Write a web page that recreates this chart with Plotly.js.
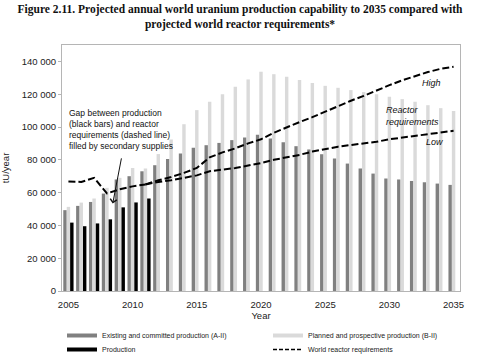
<!DOCTYPE html>
<html>
<head>
<meta charset="utf-8">
<script src="https://cdn.plot.ly/plotly-3.0.1.min.js"></script>
<style>html,body{margin:0;padding:0;background:#fff;}#chart{width:480px;height:362px;}</style>
</head>
<body>
<div id="chart"></div>
<script>
var years = [2005,2006,2007,2008,2009,2010,2011,2012,2013,2014,2015,2016,2017,2018,2019,2020,2021,2022,2023,2024,2025,2026,2027,2028,2029,2030,2031,2032,2033,2034,2035];
var existingAII = [49300,51900,54300,59400,68000,70000,73000,76700,80500,83900,87300,88900,90300,92000,93600,95200,93000,90700,88300,86300,83400,80800,77700,74700,71600,68600,68000,67100,66300,65500,64700];
var plannedBII = [51300,53900,56400,62900,69000,75000,74700,83500,92400,101700,110300,115400,120000,124500,129000,133700,132200,130600,128600,126900,125100,123900,122500,121300,119900,118400,117000,115400,113300,111500,109700];
var prodYears = [2005,2006,2007,2008,2009,2010,2011];
var production = [41700,39500,41200,43700,51000,54000,56400];
var reqHistYears = [2005,2006,2007,2008,2009,2010,2011];
var reqHist = [66800,66500,69000,59500,62000,63800,65000];
var projYears = [2011,2012,2013,2014,2015,2016,2017,2018,2019,2020,2021,2022,2023,2024,2025,2026,2027,2028,2029,2030,2031,2032,2033,2034,2035];
var reqHigh = [65000,67500,69500,72000,75000,81500,84500,87000,90000,92500,96500,100000,103000,106000,109500,112500,116000,119000,122500,125500,128500,131000,133500,135500,136700];
var reqLow = [65000,66500,67500,69000,70500,73000,74000,75000,76500,78000,80000,81500,83000,85000,86500,88000,89000,90000,91000,92500,93500,94500,95500,96500,97700];
var legendNames = ['Existing and committed production (A-II)','Planned and prospective production (B-II)','Production','World reactor requirements'];
var yTickVals = [0,20000,40000,60000,80000,100000,120000,140000];
var yTickText = ['0','20 000','40 000','60 000','80 000','100 000','120 000','140 000'];

var SANS = '"Liberation Sans Narrow", "Arial Narrow", "Liberation Sans", Arial, sans-serif';
var cDark = '#808080', cLight = '#dadada';
var reqLine = {color:'#000', width:2, dash:'7px,3px'};

var traces = [
  {type:'bar', x:years, y:existingAII, marker:{color:cDark}, showlegend:false, hoverinfo:'skip'},
  {type:'bar', x:years, y:plannedBII, marker:{color:cLight}, showlegend:false, hoverinfo:'skip'},
  {type:'bar', x:prodYears, y:production, marker:{color:'#000'}, showlegend:false, hoverinfo:'skip'},
  {type:'scatter', mode:'lines', x:reqHistYears, y:reqHist, line:reqLine, showlegend:false},
  {type:'scatter', mode:'lines', x:projYears, y:reqHigh, line:reqLine, showlegend:false},
  {type:'scatter', mode:'lines', x:projYears, y:reqLow, line:reqLine, showlegend:false},
  {type:'scatter', mode:'lines', x:[null], y:[null], name:legendNames[0], legend:'legend', line:{color:cDark, width:4}},
  {type:'scatter', mode:'lines', x:[null], y:[null], name:legendNames[1], legend:'legend2', line:{color:cLight, width:4}},
  {type:'scatter', mode:'lines', x:[null], y:[null], name:legendNames[2], legend:'legend3', line:{color:'#000', width:4}},
  {type:'scatter', mode:'lines', x:[null], y:[null], name:legendNames[3], legend:'legend4', line:{color:'#000', width:1.5, dash:'4px,2px'}}
];

function legendAt(leftPx, topPx){
  return {orientation:'h', xref:'container', x:leftPx/480, xanchor:'left', yref:'container', y:1 - topPx/362, yanchor:'top',
          font:{family:SANS, size:7, color:'#222'}, bgcolor:'rgba(0,0,0,0)'};
}

var layout = {
  width:480, height:362,
  margin:{l:62, r:20, t:45, b:71},
  paper_bgcolor:'#fff', plot_bgcolor:'#fff',
  barmode:'group', bargap:0.2, bargroupgap:0,
  title:{text:'Figure 2.11. Projected annual world uranium production capability to 2035 compared with<br>projected world reactor requirements*',
         font:{family:'"Liberation Serif", "DejaVu Serif", serif', size:11.5, color:'#111', weight:'bold'},
         x:0.5, xanchor:'center', y:0.965, yanchor:'top', yref:'container'},
  xaxis:{range:[2004.5,2035.5], tickvals:[2005,2010,2015,2020,2025,2030,2035], ticks:'outside', ticklen:5, tickcolor:'rgba(0,0,0,0)',
         showgrid:false, zeroline:false, showline:true, mirror:true, linecolor:'#b5b5b5', linewidth:1,
         tickfont:{family:SANS, size:9.5, color:'#222'},
         title:{text:'Year', font:{family:SANS, size:9.5, color:'#222'}, standoff:6}},
  yaxis:{range:[0,150000], tickvals:yTickVals, ticktext:yTickText, ticks:'outside', ticklen:3, tickcolor:'#b5b5b5',
         showgrid:false, zeroline:false, showline:true, mirror:true, linecolor:'#b5b5b5', linewidth:1,
         tickfont:{family:SANS, size:9.5, color:'#222'},
         title:{text:'tU/year', font:{family:SANS, size:9.5, color:'#222'}, standoff:10}},
  legend:legendAt(62, 321),
  legend2:legendAt(268, 321),
  legend3:legendAt(62, 335),
  legend4:legendAt(268, 335),
  annotations:[
    {xref:'x', yref:'y', x:2004.9, y:113000, xanchor:'left', yanchor:'top', align:'left', showarrow:false,
     text:'Gap between production<br>(black bars) and reactor<br>requirements (dashed line)<br>filled by secondary supplies',
     font:{family:SANS, size:8.5, color:'#111'}},
    {xref:'x', yref:'y', x:2008.45, y:53300, ax:2009.15, ay:81800, axref:'x', ayref:'y', showarrow:true,
     arrowhead:4, arrowsize:1.3, arrowwidth:1, arrowcolor:'#111', text:''},
    {xref:'x', yref:'y', x:2033.3, y:126900, showarrow:false, text:'<i>High</i>',
     font:{family:SANS, size:9, color:'#111'}},
    {xref:'x', yref:'y', x:2029.6, y:107000, xanchor:'left', align:'left', showarrow:false, text:'<i>Reactor<br>requirements</i>',
     font:{family:SANS, size:9, color:'#111'}},
    {xref:'x', yref:'y', x:2033.5, y:90900, showarrow:false, text:'<i>Low</i>',
     font:{family:SANS, size:9, color:'#111'}}
  ]
};

Plotly.newPlot('chart', traces, layout, {staticPlot:true, displayModeBar:false});
</script>
</body>
</html>
